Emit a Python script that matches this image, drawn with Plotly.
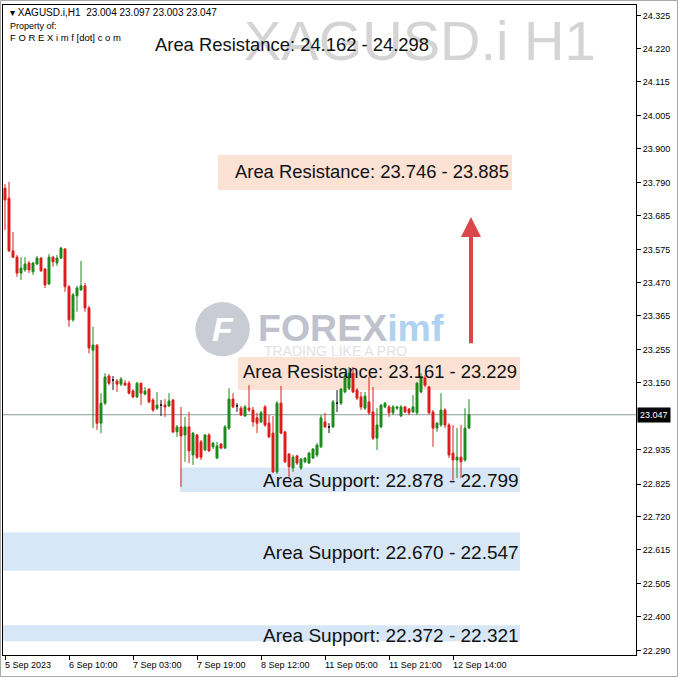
import plotly.graph_objects as go

# ---------------- data ----------------
bar_index = list(range(117))

opens = [23.773, 23.741, 23.572, 23.552, 23.501, 23.511, 23.533, 23.505, 23.530, 23.549,
         23.514, 23.466, 23.552, 23.533, 23.549, 23.578, 23.457, 23.351, 23.428, 23.447,
         23.460, 23.389, 23.254, 23.270, 23.020, 23.084, 23.171, 23.158, 23.155, 23.145,
         23.148, 23.148, 23.123, 23.104, 23.148, 23.113, 23.129, 23.094, 23.068, 23.078,
         23.078, 23.075, 23.094, 22.992, 23.008, 22.982, 23.008, 22.918, 22.982, 22.960,
         22.934, 22.982, 22.944, 22.908, 22.953, 22.940, 23.004, 23.097, 23.075, 23.068,
         23.043, 23.068, 23.062, 23.037, 23.024, 23.072, 23.020, 22.988, 22.864, 23.084,
         22.992, 22.921, 22.876, 22.915, 22.876, 22.896, 22.892, 22.908, 22.918, 22.944,
         23.024, 23.008, 23.008, 23.084, 23.084, 23.120, 23.132, 23.180, 23.126, 23.104,
         23.068, 23.088, 23.056, 22.972, 23.008, 23.072, 23.072, 23.053, 23.068, 23.043,
         23.072, 23.065, 23.056, 23.053, 23.120, 23.165, 23.136, 23.056, 23.004, 23.014,
         23.062, 23.014, 22.924, 22.902, 22.911, 22.902, 23.004]
highs = [23.786, 23.793, 23.633, 23.559, 23.552, 23.552, 23.540, 23.537, 23.556, 23.552,
         23.517, 23.562, 23.556, 23.559, 23.585, 23.581, 23.463, 23.437, 23.460, 23.540,
         23.469, 23.396, 23.329, 23.273, 23.116, 23.180, 23.177, 23.171, 23.161, 23.168,
         23.158, 23.155, 23.129, 23.152, 23.150, 23.136, 23.132, 23.100, 23.120, 23.094,
         23.097, 23.116, 23.097, 23.014, 23.072, 23.040, 23.056, 22.992, 22.985, 22.966,
         22.985, 22.988, 22.960, 22.960, 22.956, 23.014, 23.132, 23.116, 23.084, 23.075,
         23.078, 23.142, 23.072, 23.053, 23.059, 23.078, 23.046, 23.043, 23.091, 23.139,
         22.995, 22.924, 22.918, 22.918, 22.908, 22.911, 22.928, 22.940, 22.956, 23.046,
         23.053, 23.020, 23.094, 23.126, 23.132, 23.180, 23.200, 23.200, 23.132, 23.120,
         23.120, 23.168, 23.136, 23.068, 23.081, 23.088, 23.078, 23.078, 23.075, 23.078,
         23.075, 23.068, 23.110, 23.152, 23.180, 23.174, 23.139, 23.062, 23.024, 23.116,
         23.068, 23.020, 23.014, 23.004, 23.014, 23.068, 23.097]
lows = [23.639, 23.569, 23.549, 23.489, 23.479, 23.505, 23.501, 23.495, 23.527, 23.505,
        23.453, 23.463, 23.521, 23.524, 23.546, 23.441, 23.329, 23.345, 23.377, 23.444,
        23.377, 23.244, 23.004, 22.998, 22.988, 23.078, 23.142, 23.126, 23.120, 23.139,
        23.139, 23.112, 23.100, 23.100, 23.078, 23.110, 23.084, 23.056, 23.062, 23.043,
        23.040, 23.072, 22.988, 22.976, 22.816, 22.896, 22.892, 22.886, 22.905, 22.902,
        22.931, 22.928, 22.937, 22.905, 22.937, 22.937, 22.998, 23.068, 23.056, 23.043,
        23.040, 23.056, 23.008, 22.988, 23.020, 23.008, 22.972, 22.860, 22.857, 22.985,
        22.892, 22.848, 22.864, 22.886, 22.870, 22.892, 22.889, 22.905, 22.911, 22.940,
        23.004, 22.988, 23.004, 23.056, 23.078, 23.116, 23.126, 23.116, 23.094, 23.062,
        23.062, 23.046, 22.966, 22.934, 23.004, 23.068, 23.040, 23.046, 23.062, 23.040,
        23.053, 23.046, 23.053, 23.046, 23.116, 23.136, 23.049, 22.944, 22.992, 23.008,
        23.004, 22.908, 22.838, 22.844, 22.844, 22.896, 23.003]
closes = [23.735, 23.572, 23.552, 23.501, 23.517, 23.530, 23.511, 23.533, 23.549, 23.508,
          23.463, 23.552, 23.537, 23.549, 23.581, 23.457, 23.351, 23.431, 23.453, 23.460,
          23.389, 23.261, 23.270, 23.020, 23.084, 23.168, 23.148, 23.158, 23.145, 23.161,
          23.142, 23.116, 23.104, 23.148, 23.116, 23.123, 23.088, 23.062, 23.078, 23.078,
          23.072, 23.091, 22.992, 23.008, 22.979, 23.008, 22.931, 22.988, 22.911, 22.911,
          22.982, 22.931, 22.956, 22.947, 22.940, 23.008, 23.097, 23.072, 23.075, 23.046,
          23.072, 23.062, 23.024, 23.020, 23.053, 23.014, 22.976, 22.864, 23.084, 22.988,
          22.896, 22.880, 22.911, 22.892, 22.905, 22.908, 22.924, 22.937, 22.950, 23.037,
          23.008, 23.008, 23.088, 23.084, 23.129, 23.165, 23.180, 23.120, 23.100, 23.072,
          23.107, 23.053, 22.972, 23.014, 23.078, 23.084, 23.053, 23.072, 23.072, 23.072,
          23.056, 23.053, 23.072, 23.148, 23.168, 23.142, 23.053, 23.004, 23.020, 23.062,
          23.014, 22.918, 22.902, 22.911, 22.896, 23.004, 23.047]

x_tick_index = [0, 16, 32, 48, 64, 80, 96, 112]
x_tick_labels = ["5 Sep 2023", "6 Sep 10:00", "7 Sep 03:00", "7 Sep 19:00",
                 "8 Sep 12:00", "11 Sep 05:00", "11 Sep 21:00", "12 Sep 14:00"]
y_tick_values = [24.325, 24.220, 24.115, 24.005, 23.900, 23.790, 23.685, 23.575, 23.470,
                 23.365, 23.255, 23.150, 22.935, 22.825, 22.720, 22.615, 22.505, 22.400,
                 22.290]
last_price = 23.047

# zones: label, label anchor (bar, price), box extents (bar from/to, price lo/hi), kind
zone_labels = ["Area Resistance: 24.162 - 24.298", "Area Resistance: 23.746 - 23.885",
               "Area Resistance: 23.161 - 23.229", "Area Support: 22.878 - 22.799",
               "Area Support: 22.670 - 22.547", "Area Support: 22.372 - 22.321"]
zone_label_bar = [37.0, 57.0, 59.0, 64.0, 64.0, 64.0]
zone_label_price = [24.235, 23.828, 23.187, 22.835, 22.604, 22.341]
zone_box_from = [None, 53.25, 58.25, 43.75, -0.5, -0.5]
zone_box_to = [None, 126.75, 128.75, 128.75, 128.75, 128.75]
zone_box_lo = [None, 23.767, 23.126, 22.799, 22.547, 22.321]
zone_box_hi = [None, 23.879, 23.232, 22.878, 22.670, 22.372]
zone_kind = ["res", "res", "res", "sup", "sup", "sup"]

arrow_bar = 116.5
arrow_from_price = 23.271
arrow_to_price = 23.681

# ---------------- styles ----------------
GREEN = "#1c8a1c"
RED = "#dc1c1c"
DOJI = "#111111"
RES_FILL = "#fbe2d5"
SUP_FILL = "#d8e7f8"
FONT = "Liberation Sans, Arial, sans-serif"

fig = go.Figure()


def add_group(cond, color, name):
    idx = [i for i in bar_index if cond(opens[i], closes[i])]
    fig.add_trace(go.Candlestick(
        x=[bar_index[i] for i in idx],
        open=[opens[i] for i in idx], high=[highs[i] for i in idx],
        low=[lows[i] for i in idx], close=[closes[i] for i in idx],
        increasing=dict(line=dict(color=color, width=1), fillcolor=color),
        decreasing=dict(line=dict(color=color, width=1), fillcolor=color),
        whiskerwidth=0, name=name, showlegend=False, hoverinfo="skip"))


add_group(lambda o, c: c > o, GREEN, "up")
add_group(lambda o, c: c < o, RED, "down")
add_group(lambda o, c: c == o, DOJI, "doji")

shapes = []
annotations = []

# zone boxes
for i in range(len(zone_labels)):
    if zone_box_from[i] is None:
        continue
    shapes.append(dict(type="rect", xref="x", yref="y", layer="below",
                       x0=zone_box_from[i], x1=zone_box_to[i],
                       y0=zone_box_lo[i], y1=zone_box_hi[i],
                       fillcolor=RES_FILL if zone_kind[i] == "res" else SUP_FILL,
                       line=dict(width=0)))

# last price line
shapes.append(dict(type="line", xref="paper", yref="y", x0=0, x1=1,
                   y0=last_price, y1=last_price, layer="below",
                   line=dict(color="#8c9a9a", width=1)))

# window frame around the whole picture
shapes.append(dict(type="rect", xref="paper", yref="paper",
                   x0=-2.5 / 633, x1=674.5 / 633, y0=-21.5 / 650, y1=654.5 / 650,
                   line=dict(color="#a8a8a8", width=1), fillcolor="rgba(0,0,0,0)"))

# logo (faint watermark)
shapes.append(dict(type="circle", xref="x", yref="y", layer="below",
                   x0=47.6, x1=61.2, y0=23.234, y1=23.408,
                   fillcolor="#c9ccd4", line=dict(width=0)))
annotations.append(dict(x=54.5, y=23.321, xref="x", yref="y", text="<b><i>F</i></b>",
                        showarrow=False, font=dict(family=FONT, size=34, color="#ffffff")))
annotations.append(dict(x=62.8, y=23.326, xref="x", yref="y", xanchor="left",
                        text="<b>FOREX</b><b><span style='color:#aed2ef'>imf</span></b>",
                        showarrow=False, font=dict(family=FONT, size=37.5, color="#bfc2cc")))
annotations.append(dict(x=64.2, y=23.250, xref="x", yref="y", xanchor="left",
                        text="TRADING LIKE A PRO", showarrow=False,
                        font=dict(family=FONT, size=14, color="#e2e2e2")))

# big symbol watermark
annotations.append(dict(x=0.94, y=0.945, xref="paper", yref="paper", xanchor="right",
                        yanchor="middle", text="XAGUSD.i H1", showarrow=False,
                        font=dict(family=FONT, size=56, color="#d4d4d4")))

# zone labels
for i in range(len(zone_labels)):
    annotations.append(dict(x=zone_label_bar[i], y=zone_label_price[i], xref="x", yref="y",
                            xanchor="left", yanchor="middle", text=zone_labels[i],
                            showarrow=False,
                            font=dict(family=FONT,
                                      size=18.4 if zone_kind[i] == "res" else 19,
                                      color="#111111")))

# arrow
annotations.append(dict(x=arrow_bar, y=arrow_to_price, ax=arrow_bar, ay=arrow_from_price,
                        xref="x", yref="y", axref="x", ayref="y", text="",
                        showarrow=True, arrowhead=2, arrowsize=1, arrowwidth=4,
                        arrowcolor="#d9474a"))

# header texts
o, h, l, c = opens[-1], highs[-1], lows[-1], closes[-1]
annotations.append(dict(x=0.008, y=0.988, xref="paper", yref="paper", xanchor="left",
                        yanchor="middle", showarrow=False,
                        text="▾ XAGUSD.i,H1  %.3f %.3f %.3f %.3f" % (o, h, l, c),
                        font=dict(family=FONT, size=10, color="#000000")))
annotations.append(dict(x=0.008, y=0.968, xref="paper", yref="paper", xanchor="left",
                        yanchor="middle", showarrow=False, text="Property of:",
                        font=dict(family=FONT, size=9, color="#000000")))
annotations.append(dict(x=0.008, y=0.950, xref="paper", yref="paper", xanchor="left",
                        yanchor="middle", showarrow=False,
                        text="F O R E X i m f [dot] c o m",
                        font=dict(family=FONT, size=9.5, color="#000000")))

# x tick labels (left-aligned at tick, MT4 style)
for xi, lab in zip(x_tick_index, x_tick_labels):
    annotations.append(dict(x=xi, y=0, xref="x", yref="paper", xanchor="left",
                            yanchor="top", yshift=-3, xshift=-2, text=lab,
                            showarrow=False,
                            font=dict(family=FONT, size=9, color="#000000")))

# last price tag on the axis
annotations.append(dict(x=1, y=last_price, xref="paper", yref="y", xanchor="left",
                        yanchor="middle", xshift=1, text="%.3f" % last_price,
                        showarrow=False, bgcolor="#000000", borderpad=2,
                        font=dict(family=FONT, size=9, color="#ffffff")))

fig.update_layout(
    width=678, height=678, autosize=False,
    margin=dict(l=3, r=42, t=5, b=23),
    paper_bgcolor="#ffffff", plot_bgcolor="#ffffff",
    shapes=shapes, annotations=annotations,
    showlegend=False,
    xaxis=dict(range=[-0.5, 157.75], showgrid=False, zeroline=False,
               rangeslider=dict(visible=False), tickvals=x_tick_index,
               showticklabels=False, ticks="outside", ticklen=4, tickcolor="#000000",
               showline=True, linecolor="#000000", linewidth=1, mirror=True),
    yaxis=dict(range=[22.277, 24.360], side="right", showgrid=False, zeroline=False,
               tickvals=y_tick_values, ticktext=["%.3f" % v for v in y_tick_values],
               ticks="outside", ticklen=4, tickcolor="#000000",
               tickfont=dict(family=FONT, size=9, color="#000000"),
               showline=True, linecolor="#000000", linewidth=1, mirror=True),
)

fig.write_html("out.html", config={"displayModeBar": False},
               post_script="document.body.style.margin='0px';")
